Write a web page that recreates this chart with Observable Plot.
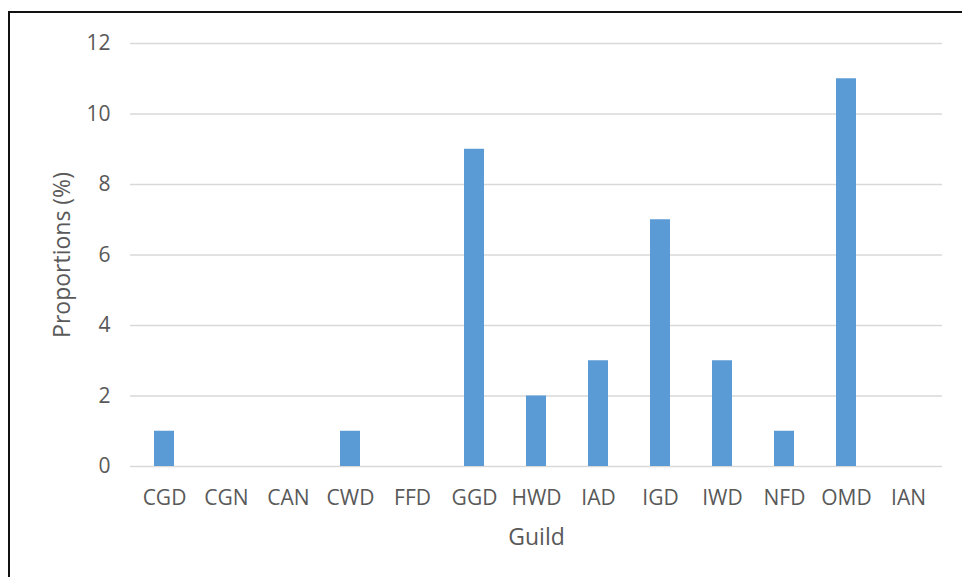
<!DOCTYPE html>
<html>
<head>
<meta charset="utf-8">
<script src="https://cdn.jsdelivr.net/npm/d3@7"></script>
<script src="https://cdn.jsdelivr.net/npm/@observablehq/plot@0.6"></script>
<style>
  html, body { margin: 0; padding: 0; background: #fff; }
  #wrap { position: relative; width: 962px; height: 577px; overflow: hidden; }
  #frame { position: absolute; left: 8px; top: 11px; width: 1000px; height: 700px; border: 2px solid #111; box-sizing: border-box; }
  #chart { position: absolute; left: 0; top: 0; }
</style>
</head>
<body>
<div id="wrap">
  <div id="frame"></div>
  <div id="chart"></div>
</div>
<script>
const guilds = ["CGD","CGN","CAN","CWD","FFD","GGD","HWD","IAD","IGD","IWD","NFD","OMD","IAN"];
const proportions = [1,0,0,1,0,9,2,3,7,3,1,11,0];
const yTicks = [0,2,4,6,8,10,12];

const data = guilds.map((g, i) => ({guild: g, value: proportions[i]}));
const font = "'Open Sans', sans-serif";

const chart = Plot.plot({
  width: 962,
  height: 577,
  marginLeft: 130,
  marginRight: 20,
  marginTop: 43,
  marginBottom: 111,
  style: {fontFamily: font, fontSize: "21px", color: "#595959", background: "transparent"},
  x: {domain: guilds, paddingInner: 0.68, paddingOuter: 0.34, label: null},
  y: {domain: [0, 12], label: null},
  marks: [
    Plot.gridY(yTicks, {stroke: "#d9d9d9", strokeOpacity: 1, strokeWidth: 1.6}),
    Plot.barY(data, {x: "guild", y: "value", fill: "#5b9bd5"}),
    Plot.axisY(yTicks, {tickSize: 0, tickPadding: 20, fontSize: 21, fill: "#595959", label: null}),
    Plot.axisX({tickSize: 0, tickPadding: 24, fontSize: 21, fill: "#595959", label: null}),
    Plot.text(["Guild"], {frameAnchor: "bottom", lineAnchor: "middle", dy: 71, fontSize: 23, fill: "#595959"}),
    Plot.text(["Proportions (%)"], {frameAnchor: "left", textAnchor: "middle", lineAnchor: "middle", dx: -68, rotate: -90, fontSize: 23, fill: "#595959"})
  ]
});
document.getElementById("chart").appendChild(chart);
</script>
</body>
</html>
